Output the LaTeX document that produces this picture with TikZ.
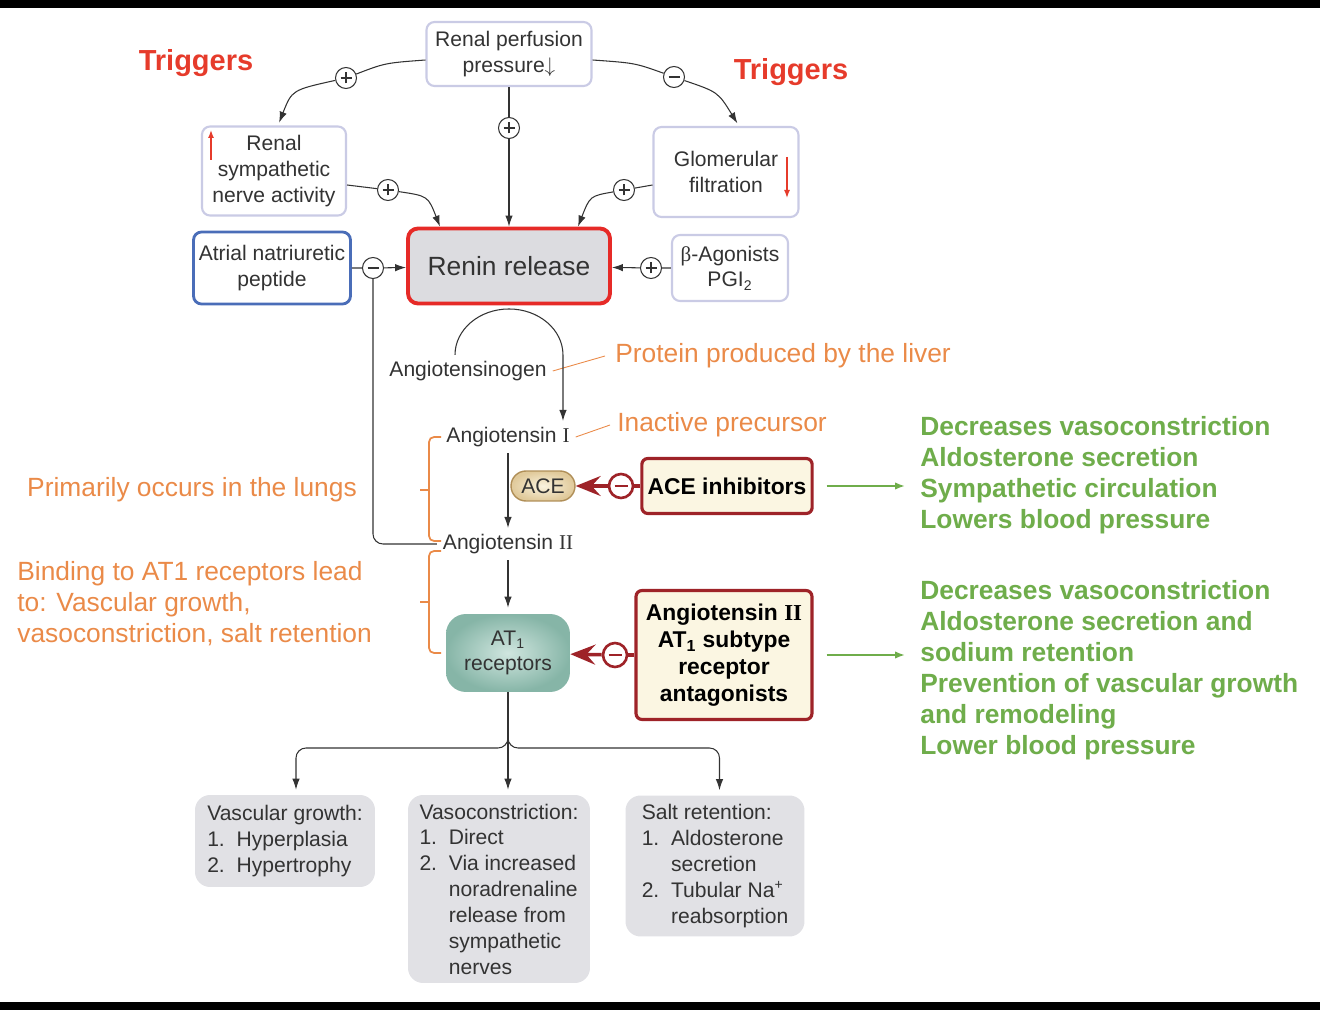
\documentclass[tikz,border=0pt]{standalone}
\usepackage{fontspec}
\setmainfont{Liberation Sans}
\newfontfamily\romfont{Liberation Serif}
\usetikzlibrary{arrows.meta,positioning}

\definecolor{trigred}{HTML}{E63B2B}
\definecolor{noteorange}{HTML}{EA8A48}
\definecolor{effgreen}{HTML}{6FAD4B}
\definecolor{drugred}{HTML}{9E2328}
\definecolor{drugfill}{HTML}{FBF6E2}
\definecolor{reninred}{HTML}{E62A27}
\definecolor{reningray}{HTML}{DCDCE0}
\definecolor{anpblue}{HTML}{4A6DB8}
\definecolor{paleedge}{HTML}{CACBE5}
\definecolor{resgray}{HTML}{E1E1E5}
\definecolor{inkgray}{HTML}{333333}
\definecolor{acecore}{HTML}{FAF3DE}
\definecolor{aceedge}{HTML}{E0C99A}
\definecolor{acerim}{HTML}{B08F58}
\definecolor{atcore}{HTML}{D0E6DF}
\definecolor{atedge}{HTML}{86B5A7}

\tikzset{
  smalltxt/.style={font=\fontsize{12}{14.7}\selectfont, text=inkgray},
  palebox/.style={smalltxt, draw=paleedge, line width=1.2pt, rounded corners=0.16cm,
    fill=white, align=center, inner sep=1pt},
  drugbox/.style={draw=drugred, line width=1.8pt, fill=drugfill, rounded corners=0.12cm,
    align=center, font=\bfseries\fontsize{13}{15.3}\selectfont},
  resbox/.style={smalltxt, fill=resgray, rounded corners=0.3cm, align=left},
  trig/.style={font=\bfseries\fontsize{16.5}{19}\selectfont, text=trigred},
  note/.style={font=\fontsize{15}{17.6}\selectfont, text=noteorange, inner sep=0pt},
  effect/.style={font=\bfseries\fontsize{15}{17.6}\selectfont, text=effgreen,
    align=left, inner sep=0pt, anchor=west},
  flow/.style={draw=inkgray, line width=0.6pt, -{Latex[length=0.22cm,width=0.15cm]}},
  link/.style={draw=inkgray, line width=0.6pt},
  leader/.style={draw=noteorange, line width=0.5pt},
  bracket/.style={draw=noteorange, line width=1pt, rounded corners=0.1cm},
  redtick/.style={draw=trigred, line width=0.8pt, -{Latex[length=0.16cm,width=0.12cm]}},
  inh/.style={draw=drugred, line width=2pt, -{Stealth[length=0.5cm,width=0.4cm,inset=0.18cm]}},
  effarrow/.style={draw=effgreen, line width=1pt, -{Latex[length=0.2cm,width=0.15cm]}},
  signbase/.style={circle, draw=inkgray, fill=white, inner sep=0pt, minimum size=0.42cm, line width=0.6pt},
  posmark/.style={signbase, path picture={
    \draw[inkgray, line width=0.8pt]
      ([xshift=-0.11cm]path picture bounding box.center) -- ([xshift=0.11cm]path picture bounding box.center)
      ([yshift=-0.11cm]path picture bounding box.center) -- ([yshift=0.11cm]path picture bounding box.center);}},
  negmark/.style={signbase, path picture={
    \draw[inkgray, line width=0.8pt]
      ([xshift=-0.11cm]path picture bounding box.center) -- ([xshift=0.11cm]path picture bounding box.center);}},
  redneg/.style={circle, draw=drugred, fill=white, inner sep=0pt, minimum size=0.48cm, line width=1.5pt,
    path picture={\draw[drugred, line width=1.5pt]
      ([xshift=-0.13cm]path picture bounding box.center) -- ([xshift=0.13cm]path picture bounding box.center);}},
}

\begin{document}
\begin{tikzpicture}[x=0.02cm, y=-0.02cm]
  \useasboundingbox (0,0) rectangle (1320,1010);
  % frame bars
  \fill[black] (0,0) rectangle (1320,8);
  \fill[black] (0,1002) rectangle (1320,1010);

  % Triggers
  \node[trig] (trigL) at (196,63) {Triggers};
  \node[trig] (trigR) at (791,72) {Triggers};
  \node[palebox, minimum width=3.3cm, minimum height=1.28cm] (rpp) at (509,54)
    {Renal perfusion\\pressure$\downarrow$};
  \node[palebox, minimum width=2.88cm, minimum height=1.78cm] (rns) at (274,171)
    {Renal\\sympathetic\\nerve activity};
  \node[palebox, minimum width=2.9cm, minimum height=1.8cm] (gf) at (726,172)
    {Glomerular\\filtration};
  \draw[redtick] (211,160) -- (211,130);
  \draw[redtick] (787,157) -- (787,198);

  % Renin row
  \node[smalltxt, draw=anpblue, line width=1.6pt, rounded corners=0.16cm, align=center,
    inner sep=1pt, minimum width=3.14cm, minimum height=1.44cm] (anp) at (272,268)
    {Atrial natriuretic\\peptide};
  \node[draw=reninred, line width=2.2pt, fill=reningray, rounded corners=0.2cm,
    text=inkgray, font=\fontsize{15}{18}\selectfont,
    minimum width=4.04cm, minimum height=1.5cm] (renin) at (509,266) {Renin release};
  \node[palebox, minimum width=2.32cm, minimum height=1.32cm] (beta) at (730,268)
    {{\romfont β}-Agonists\\PGI\textsubscript{2}};

  \node[posmark] (s1) at (346,78) {};
  \node[negmark] (s2) at (674,77) {};
  \node[posmark] (s3) at (509,128) {};
  \node[posmark] (s4) at (388,190) {};
  \node[posmark] (s5) at (624,190) {};
  \node[negmark] (s6) at (373,268) {};
  \node[posmark] (s7) at (651,268) {};

  \draw[flow, shorten >=0.06cm] ([yshift=-0.12cm]rpp.west) .. controls (385,63) .. (s1)
    .. controls (292,90) .. ([xshift=0.08cm]rns.north);
  \draw[flow, shorten >=0.06cm] ([yshift=-0.12cm]rpp.east) .. controls (635,63) .. (s2)
    .. controls (718,92) .. ([xshift=0.26cm]gf.north);
  \draw[flow] (rpp) -- (s3) -- (renin);
  \draw[flow] ([yshift=-0.28cm]rns.east) -- (s4) .. controls (428,196) .. ([xshift=-1.38cm]renin.north);
  \draw[flow] ([yshift=-0.26cm]gf.west) -- (s5) .. controls (590,196) .. ([xshift=1.38cm]renin.north);
  \draw[flow] (anp) -- (s6) -- (renin);
  \draw[flow] (beta) -- (s7) -- (renin);

  % Angiotensin cascade
  \node[smalltxt] (agen) at (468,371) {Angiotensinogen};
  \node[smalltxt] (at1) at (508,437) {Angiotensin {\romfont I}};
  \node[smalltxt] (at2) at (508,544) {Angiotensin {\romfont II}};
  \node[note, anchor=west] (prot) at (615,356) {Protein produced by the liver};
  \node[note, anchor=west] (inac) at (617,425) {Inactive precursor};
  \draw[leader] (agen.east) -- ([xshift=-0.2cm]prot.west);
  \draw[leader] (at1.east) -- ([xshift=-0.14cm]inac.west);

  \draw[flow] ([xshift=-0.26cm]agen.north)
    arc[start angle=180, end angle=0, x radius=1.08cm, y radius=0.92cm]
    -- ([xshift=1.1cm]at1.north);
  \draw[flow] (at1) -- (at2);
  \draw[link, rounded corners=0.2cm] (s6) |- (at2.west);

  % ACE step
  \node[smalltxt, draw=acerim, line width=0.8pt, rounded corners=0.3cm,
    inner color=acecore, outer color=aceedge,
    minimum width=1.28cm, minimum height=0.6cm] (ace) at (543,486) {ACE};
  \node[drugbox, minimum width=3.4cm, minimum height=1.1cm] (acei) at (727,486) {ACE inhibitors};
  \node[redneg] (s8) at (621,486) {};
  \draw[link, drugred, line width=2pt] (acei) -- (s8);
  \draw[inh] (s8) -- (ace);

  % AT1 step
  \node[text=inkgray, font=\fontsize{12}{14.7}\selectfont, align=center,
    rounded corners=0.4cm, inner color=atcore, outer color=atedge,
    minimum width=2.48cm, minimum height=1.56cm] (at1r) at (508,653) {AT\textsubscript{1}\\receptors};
  \node[drugbox, minimum width=3.52cm, minimum height=2.58cm] (ant) at (724,655)
    {Angiotensin {\romfont\bfseries II}\\AT\textsubscript{1} subtype\\receptor\\antagonists};
  \node[redneg] (s9) at (615,655) {};
  \draw[link, drugred, line width=2pt] (ant) -- (s9);
  \draw[inh] (s9) -- (at1r);
  \draw[flow, shorten >=0.12cm] (at2) -- (at1r);

  % Lung / AT1 notes
  \draw[bracket] (441,437) -- (429,437) -- (429,541) -- (441,541);
  \draw[bracket] (429,490) -- (420,490);
  \draw[bracket] (441,551) -- (429,551) -- (429,653) -- (441,653);
  \draw[bracket] (429,602) -- (420,602);
  \node[note] (lung) at (192,490) {Primarily occurs in the lungs};
  \node[note, align=left, anchor=west] (bind) at (17,604)
    {Binding to AT1 receptors lead\\to: Vascular growth,\\vasoconstriction, salt retention};

  % Effects
  \node[effect] (effA) at (920,475) {Decreases vasoconstriction\\Aldosterone secretion\\
    Sympathetic circulation\\Lowers blood pressure};
  \node[effect] (effB) at (920,670) {Decreases vasoconstriction\\Aldosterone secretion and\\
    sodium retention\\Prevention of vascular growth\\and remodeling\\Lower blood pressure};
  \draw[effarrow, shorten <=0.26cm, shorten >=0.3cm] (acei.east) -- (effA.west |- acei.east);
  \draw[effarrow, shorten <=0.26cm, shorten >=0.3cm] (ant.east) -- (effB.west |- ant.east);

  % Results
  \node[resbox, minimum width=3.6cm, minimum height=1.84cm] (vgrow) at (285,841)
    {Vascular growth:\\1.\ \ Hyperplasia\\2.\ \ Hypertrophy};
  \node[resbox, minimum width=3.64cm, minimum height=3.76cm] (vaso) at (499,889)
    {Vasoconstriction:\\1.\ \ Direct\\2.\ \ Via increased\\\phantom{2.\ \ }noradrenaline\\
     \phantom{2.\ \ }release from\\\phantom{2.\ \ }sympathetic\\\phantom{2.\ \ }nerves};
  \node[resbox, minimum width=3.58cm, minimum height=2.82cm] (salt) at (715,866)
    {Salt retention:\\1.\ \ Aldosterone\\\phantom{1.\ \ }secretion\\2.\ \ Tubular Na\textsuperscript{+}\\
     \phantom{2.\ \ }reabsorption};
  \coordinate (fork) at (508,748);
  \draw[flow, shorten >=0.1cm] (at1r) -- (at1r.south |- vaso.north);
  \draw[flow, shorten >=0.1cm, rounded corners=0.2cm] (at1r.south) -- (fork) -| ([xshift=0.22cm]vgrow.north);
  \draw[flow, shorten >=0.1cm, rounded corners=0.2cm] (at1r.south) -- (fork) -| ([xshift=0.09cm]salt.north);
\end{tikzpicture}
\end{document}
